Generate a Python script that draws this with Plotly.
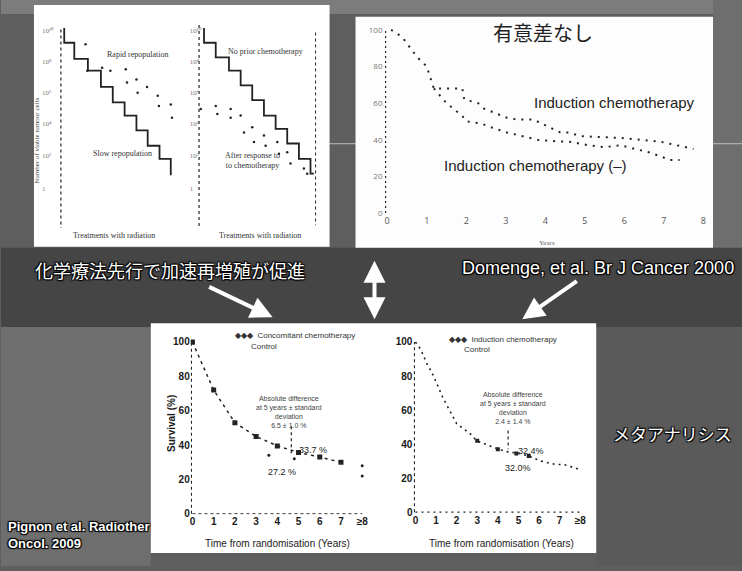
import plotly.graph_objects as go

W, H = 742, 571

# ---------------- data ----------------
# Top-left (left panel): schematic cell-kill step curves (treatment #, log cells)
slow_t = [0, 0.85, 2, 3.1, 4.1, 5.1, 6.1, 7.05, 8.05, 9, 9]
slow_v = [10, 9, 7.9, 7.1, 6.0, 4.95, 4.05, 3.05, 2.0, 1.1, 0]
rapid_t = [1.8, 1.95, 3.2, 3.9, 5.2, 5.3, 6.1, 6.2, 7.0, 7.9, 8.0, 9.0, 9.1]
rapid_v = [8.9, 7.1, 7.3, 7.1, 7.2, 6.3, 6.5, 5.6, 6.0, 5.4, 4.7, 4.8, 3.9]
# Top-left (right panel)
noprior_t = [0, 0.99, 2.11, 3.1, 4.08, 5.07, 6.06, 7.04, 8.03, 9.01, 9.3]
noprior_v = [10, 9.0, 8.0, 7.1, 6.1, 5.1, 4.05, 3.15, 2.15, 1.1, 0.1]
after_t = [-0.28, 0.99, 1.13, 2.25, 2.25, 3.1, 3.38, 4.08, 4.23, 5.07, 5.21, 6.2, 6.34, 7.04, 7.32, 8.45, 8.73]
after_v = [4.5, 4.7, 4.15, 4.5, 3.9, 4.05, 2.9, 3.25, 2.25, 2.7, 2.0, 2.25, 1.45, 1.55, 0.8, 0.45, 0.1]
log_tick_pos = [9.8, 7.7, 5.6, 3.5, 1.3, -0.9]
log_tick_txt = ["10¹⁰", "10⁸", "10⁶", "10⁴", "10²", "1"]

# Top-right: Domenge 2000 survival curves (years, %)
ind_x = [0.1, 0.38, 0.76, 1.0, 1.18, 1.9, 1.95, 2.3, 2.45, 3.03, 3.3, 3.7, 4.38, 4.6, 4.88, 5.9, 6.9, 7.75]
ind_y = [100, 96, 85, 80, 68, 68, 62, 60, 57, 52, 51, 51, 44, 44, 42, 41, 39, 35]
noind_x = [1.18, 1.5, 1.9, 2.0, 2.36, 2.6, 3.03, 3.8, 4.38, 4.6, 5.1, 5.5, 5.9, 6.65, 7.16, 7.4]
noind_y = [68, 60, 53, 50, 49, 47, 44, 40, 39, 39, 37, 36, 37, 33, 29, 29]
years_ticks = [0, 1, 2, 3, 4, 5, 6, 7, 8]
pct_ticks = [0, 20, 40, 60, 80, 100]

# Bottom: meta-analysis (Pignon 2009)
conc_x = [0, 1, 2, 3, 4, 5, 6, 7]
conc_y = [100, 72, 53, 45, 39.5, 35.7, 33, 30]
ctrl1_x = [3.6, 4.8, 8, 8]
ctrl1_y = [34, 32, 28, 22]
diff1_x = [4.66, 4.66]
diff1_y = [51, 34]
ic_x = [0, 0.24, 0.57, 0.8, 1.13, 1.3, 2.0, 2.67, 2.96, 4.04, 4.6, 4.9, 5.5, 6.1, 6.8, 7.2, 8]
ic_y = [100, 96, 87, 82, 73, 68, 52, 46, 42, 37, 35, 35, 33, 30, 28, 28, 25]
ic_mark_x = [3, 4, 4.9, 5.5]
ic_mark_y = [42, 37, 34.5, 33]
diff2_x = [4.5, 4.5]
diff2_y = [48, 37]
rand_ticktext = ["0", "1", "2", "3", "4", "5", "6", "7", "≥8"]

# ---------------- helpers ----------------
def xdom(p0, p1):
    return [p0 / W, p1 / W]

def ydom(top, bottom):
    return [1 - bottom / H, 1 - top / H]

def rng(p0, p1, pa, va, pb, vb):
    s = (vb - va) / (pb - pa)
    return [va + (p0 - pa) * s, va + (p1 - pa) * s]

def px(x, y):
    return x / W, 1 - y / H

fig = go.Figure()
INK = "#222222"

def dotted(x, y, ax, width=1.6, dash="dot", color=INK, mode="lines", marker=None, shape=None):
    n = "" if ax == 1 else str(ax)
    line = dict(color=color, width=width, dash=dash)
    if shape:
        line["shape"] = shape
    kw = dict(x=x, y=y, mode=mode, xaxis="x" + n, yaxis="y" + n,
              line=line, hoverinfo="skip", showlegend=False)
    if marker:
        kw["marker"] = marker
    fig.add_trace(go.Scatter(**kw))

# panel A
dotted(slow_t, slow_v, 1, width=1.8, dash="solid", shape="vh")
dotted(rapid_t, rapid_v, 1, mode="markers", marker=dict(size=2.5, color=INK))
dotted([-0.28, -0.28], [9.9, -3.6], 1, width=1.2)
# panel B
dotted(noprior_t, noprior_v, 2, width=1.8, dash="solid", shape="vh")
dotted(after_t, after_v, 2, mode="markers", marker=dict(size=2.5, color=INK))
dotted([-0.42, -0.42], [10.2, -3.6], 2, width=1.2)
dotted([9.44, 9.44], [9.7, -3.4], 2, width=1.0)
# panel C
dotted(ind_x, ind_y, 3, width=2, dash="2px,6px")
dotted(noind_x, noind_y, 3, width=2, dash="2px,6px")
dotted([-0.04, -0.04], [0, 100], 3, width=1.2, dash="2px,3px")
# panel D
dotted([-0.05, -0.05], [0, 100], 4, width=1.2)
dotted([0, 8], [0, 0], 4, width=1.2)
dotted(conc_x, conc_y, 4, width=1.5, dash="3px,4px", mode="lines+markers",
       marker=dict(symbol="square", size=5, color=INK))
dotted(ctrl1_x, ctrl1_y, 4, mode="markers", marker=dict(size=3, color=INK))
dotted(diff1_x, diff1_y, 4, width=1.2)
# panel E
dotted([-0.05, -0.05], [0, 100], 5, width=1.2)
dotted([0, 8], [0, 0], 5, width=1.2, dash="2px,4px")
dotted(ic_x, ic_y, 5, width=1.6, dash="2px,4px")
dotted(ic_mark_x, ic_mark_y, 5, mode="markers", marker=dict(symbol="square", size=4, color=INK))
dotted(diff2_x, diff2_y, 5, width=1.2)

ax_common = dict(showgrid=False, zeroline=False, showline=False, ticks="")
faint = dict(size=7, color="#777777", family="Liberation Serif")
lab = dict(size=10, color="#1a1a1a", family="Liberation Sans", weight="bold")

fig.update_layout(
    width=W, height=H, margin=dict(l=0, r=0, t=0, b=0),
    paper_bgcolor="#5e5e5e", plot_bgcolor="rgba(0,0,0,0)",
    showlegend=False,
    xaxis=dict(domain=xdom(38, 186), range=rng(38, 186, 63.3, 0, 170, 9), showticklabels=False, **ax_common),
    yaxis=dict(domain=ydom(20, 236), range=rng(236, 20, 28.3, 10, 176.7, 0),
               tickvals=log_tick_pos, ticktext=log_tick_txt, ticklabelposition="inside",
               tickfont=faint, **ax_common),
    xaxis2=dict(domain=xdom(186, 326), range=rng(186, 326, 203.3, 0, 309.8, 9), showticklabels=False,
                anchor="y2", **ax_common),
    yaxis2=dict(domain=ydom(20, 236), range=rng(236, 20, 28.3, 10, 176.7, 0), anchor="x2",
                tickvals=log_tick_pos, ticktext=log_tick_txt, ticklabelposition="inside",
                tickfont=faint, **ax_common),
    xaxis3=dict(domain=xdom(383, 712), range=rng(383, 712, 386.7, 0, 703.3, 8), anchor="y3",
                tickvals=years_ticks, tickfont=dict(size=9, color="#555555"), **ax_common),
    yaxis3=dict(domain=ydom(20, 216), range=rng(216, 20, 215, 0, 30, 100), anchor="x3",
                tickvals=pct_ticks, tickfont=dict(size=8, color="#777777"), **ax_common),
    xaxis4=dict(domain=xdom(190, 372), range=rng(190, 372, 191.7, 0, 361.7, 8), anchor="y4",
                tickvals=years_ticks, ticktext=rand_ticktext, tickfont=lab, **ax_common),
    yaxis4=dict(domain=ydom(335, 519), range=rng(519, 335, 518.3, 0, 345, 100), anchor="x4",
                tickvals=pct_ticks, tickfont=lab, **ax_common),
    xaxis5=dict(domain=xdom(413, 592), range=rng(413, 592, 415, 0, 580, 8), anchor="y5",
                tickvals=years_ticks, ticktext=rand_ticktext, tickfont=lab, **ax_common),
    yaxis5=dict(domain=ydom(335, 518), range=rng(518, 335, 516.7, 0, 345, 100), anchor="x5",
                tickvals=pct_ticks, tickfont=lab, **ax_common),
)

# ---------------- background shapes ----------------
def rect(x0, y0, x1, y1, color, layer="below"):
    fig.add_shape(type="rect", xref="paper", yref="paper",
                  x0=x0 / W, x1=x1 / W, y0=1 - y1 / H, y1=1 - y0 / H,
                  fillcolor=color, line=dict(width=0), layer=layer)

rect(0, 0, 742, 14, "#7c7c7c")
rect(713, 0, 742, 255, "#6e6e6e")
rect(0, 250, 742, 330, "#454545")
rect(0, 330, 150, 571, "#6e6e6e")
rect(596, 330, 742, 571, "#5a5a5a")
fig.add_shape(type="line", xref="paper", yref="paper", x0=328 / W, x1=1, y0=1 - 145 / H, y1=1 - 145 / H,
              line=dict(color="#bdbdbd", width=1), layer="below")
rect(33, 5, 329, 249, "#ffffff")
rect(355, 17, 713, 250, "#fdfdfd")
rect(150, 326, 596, 558, "#ffffff")

# ---------------- annotations ----------------
def text(x, y, s, size, color=INK, family="Liberation Sans", xanchor="center", angle=0,
         shadow=None, weight="normal", align="center"):
    X, Y = px(x, y)
    f = dict(size=size, color=color, family=family, weight=weight)
    if shadow:
        f["shadow"] = shadow
    fig.add_annotation(x=X, y=Y, xref="paper", yref="paper", text=s, showarrow=False,
                       font=f, xanchor=xanchor, yanchor="middle", textangle=angle, align=align)

serif = "Liberation Serif"
text(137, 55, "Rapid repopulation", 8, "#333", serif)
text(122, 155, "Slow repopulation", 8, "#333", serif)
text(113, 238, "Treatments with radiation", 8, "#333", serif)
text(265, 52, "No prior chemotherapy", 8, "#333", serif)
text(252, 162, "After response to<br>to chemotherapy", 8, "#333", serif)
text(259, 238, "Treatments with radiation", 8, "#333", serif)
text(36, 142, "Number of viable tumour cells", 7, "#444", serif, angle=-90)

text(543, 33, "有意差なし", 20, "#222", "Noto Sans CJK JP")
text(614, 103, "Induction chemotherapy", 15, "#222", "Liberation Sans")
text(535, 167, "Induction chemotherapy (–)", 15, "#222", "Liberation Sans")
text(547, 245, "Years", 7, "#666", serif)

text(170, 427, "Survival (%)", 10, "#1a1a1a", angle=-90, weight="bold")
text(277, 548, "Time from randomisation (Years)", 10, "#1a1a1a")
text(501, 548, "Time from randomisation (Years)", 10, "#1a1a1a")
text(232, 338, "◆◆◆  Concomitant chemotherapy", 8, "#333", xanchor="left")
text(248, 350, "Control", 8, "#333", xanchor="left")
text(447, 342, "◆◆◆  Induction chemotherapy", 8, "#333", xanchor="left")
text(462, 353, "Control", 8, "#333", xanchor="left")
text(288, 416, "Absolute difference<br>at 5 years ± standard<br>deviation<br>6.5 ± 1.0 %", 7, "#444")
text(312, 454, "33.7 %", 9, "#222")
text(281, 476, "27.2 %", 9, "#222")
text(513, 412, "Absolute difference<br>at 5 years ± standard<br>deviation<br>2.4 ± 1.4 %", 7, "#444")
text(531, 455, "32.4%", 9, "#222")
text(518, 472, "32.0%", 9, "#222")

sh = "1px 1px 1px #000, -1px -1px 1px #000, 1px -1px 1px #000, -1px 1px 1px #000"
text(169, 272, "化学療法先行で加速再増殖が促進", 18, "#ffffff", "Noto Sans CJK JP", shadow=sh)
text(598, 270, "Domenge, et al. Br J Cancer 2000", 18, "#ffffff",
     "Liberation Sans Narrow, Liberation Sans", shadow=sh)
text(734, 437, "メタアナリシス", 17, "#ffffff", "Noto Sans CJK JP", xanchor="right", shadow=sh)
text(5, 540, "Pignon et al. Radiother<br>Oncol. 2009", 13, "#ffffff",
     "Liberation Sans Narrow, Liberation Sans", xanchor="left", shadow=sh, align="left",
     weight="bold")

def arrow(hx, hy, tx, ty, both=False):
    X, Y = px(hx, hy)
    fig.add_annotation(x=X, y=Y, xref="paper", yref="paper", text="", showarrow=True,
                       ax=tx - hx, ay=ty - hy, arrowcolor="#ffffff", arrowwidth=4,
                       arrowhead=2, arrowsize=1.1, arrowside="end+start" if both else "end")

arrow(272, 320, 207, 289)
arrow(522, 322, 578, 283)
arrow(374, 322, 374, 262, both=True)

fig.write_html("out.html")
